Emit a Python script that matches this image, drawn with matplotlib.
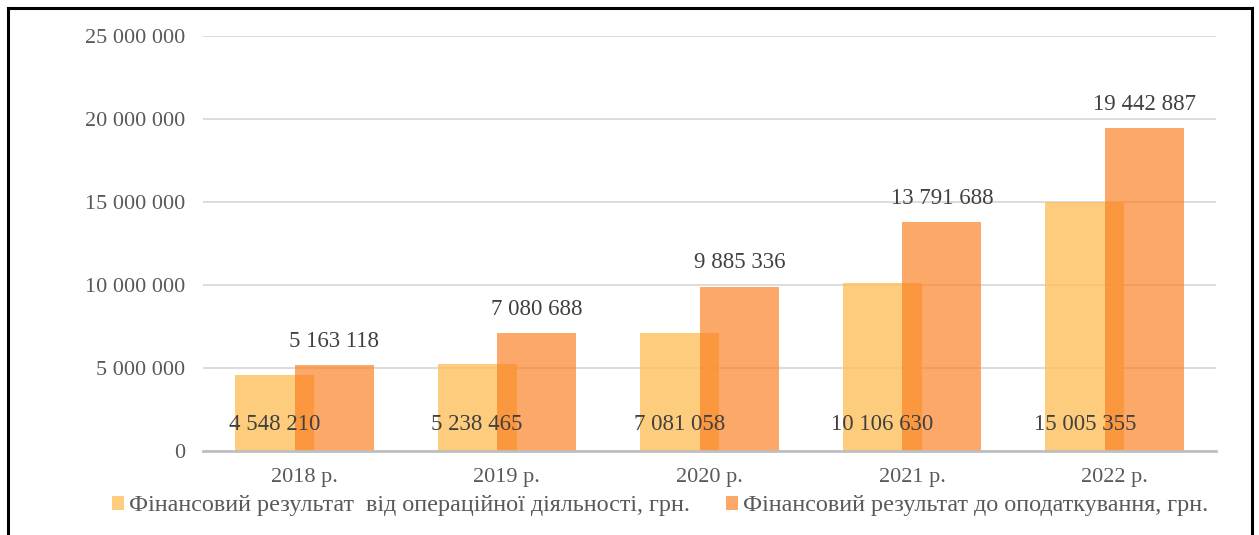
import matplotlib.pyplot as plt
import numpy as np
from matplotlib.lines import Line2D

plt.rcParams['font.family'] = ['Liberation Serif', 'DejaVu Serif']

# data
years = ['2018 р.', '2019 р.', '2020 р.', '2021 р.', '2022 р.']
operating = [4548210, 5238465, 7081058, 10106630, 15005355]
before_tax = [5163118, 7080688, 9885336, 13791688, 19442887]
series_names = ['Фінансовий результат  від операційної діяльності, грн.',
                'Фінансовий результат до оподаткування, грн.']
yticks = [0, 5000000, 10000000, 15000000, 20000000, 25000000]


def fmt(v):
    return f'{v:,}'.replace(',', ' ')


fig = plt.figure(figsize=(12.59, 5.35), dpi=100)
ax = fig.add_axes([203 / 1259, 1 - 451 / 535, 1013 / 1259, 415 / 535])

x = np.arange(len(years))
w = 0.39
off = 0.147
b1 = ax.bar(x - off, operating, w, color='#FEC05C', alpha=0.8, zorder=2)
b2 = ax.bar(x + off, before_tax, w, color='#FA7F21', alpha=0.68, zorder=3)

# value labels: first series near the base, second above the bar
for xi, v in zip(x - off, operating):
    ax.annotate(fmt(v), (xi, 0), xytext=(0, 26 * 0.72), textcoords='offset points',
                ha='center', va='center', fontsize=16.5, color='#404040', zorder=5)
for xi, v in zip(x + off, before_tax):
    ax.annotate(fmt(v), (xi, v), xytext=(0, 24 * 0.72), textcoords='offset points',
                ha='center', va='center', fontsize=16.5, color='#404040', zorder=5)

ax.set_xlim(-0.5, len(years) - 0.5)
ax.set_ylim(0, 25000000)
ax.set_yticks(yticks)
ax.set_yticklabels([fmt(v) for v in yticks])
ax.set_xticks(x)
ax.set_xticklabels(years)
ax.tick_params(axis='both', length=0, labelsize=16, colors='#595959')
ax.tick_params(axis='y', pad=13)
ax.tick_params(axis='x', pad=12)
ax.yaxis.grid(True, color='#D9D9D9', linewidth=1.3, zorder=0)
ax.set_axisbelow(True)
for s in ['top', 'right', 'left']:
    ax.spines[s].set_visible(False)
ax.spines['bottom'].set_color('#BFBFBF')
ax.spines['bottom'].set_linewidth(2)
ax.spines['bottom'].set_zorder(4)

fig.legend([b1, b2], series_names, loc='center', bbox_to_anchor=(660 / 1259, 1 - 506 / 535),
           ncol=2, frameon=False, fontsize=17.4, labelcolor='#595959',
           handlelength=0.5, handleheight=0.5, handletextpad=0.2, columnspacing=1.5,
           borderpad=0, borderaxespad=0)

# outer frame (bottom edge falls outside the image)
for xs, ys in [([8 / 1259, 8 / 1259], [0, 1 - 8 / 535]),
               ([8 / 1259, 1252 / 1259], [1 - 8 / 535, 1 - 8 / 535]),
               ([1252 / 1259, 1252 / 1259], [0, 1 - 8 / 535])]:
    fig.add_artist(Line2D(xs, ys, transform=fig.transFigure, color='black', linewidth=2.2))

fig.savefig('out.png', dpi=100)
